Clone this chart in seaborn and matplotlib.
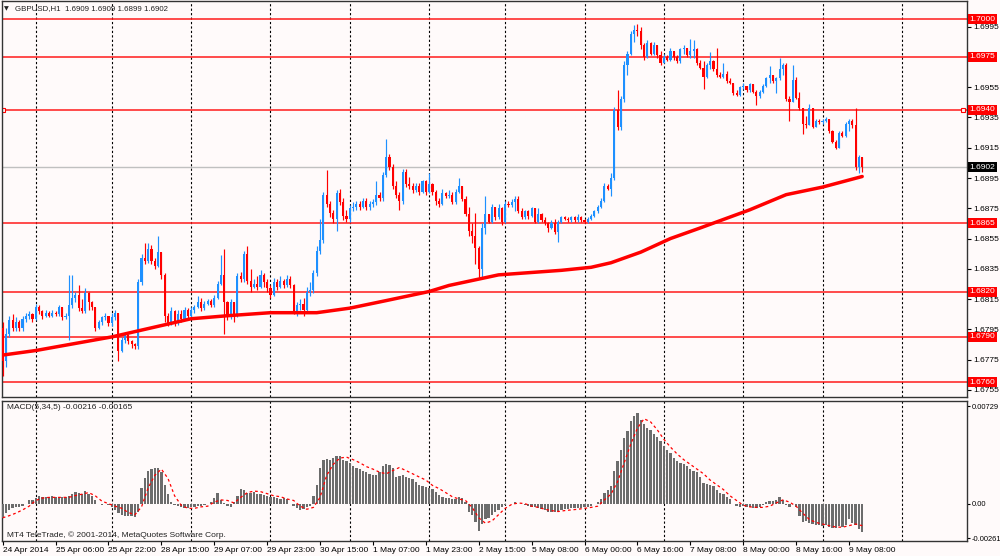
import numpy as np
import pandas as pd
import matplotlib
matplotlib.use('Agg')
import matplotlib.pyplot as plt
import seaborn as sns

# GBPUSD H1 candles, 24 Apr 14:00 .. 9 May 12:00, prices in pips above 1.6700
first_open = 96
close_pips = [
    74, 92, 101, 96, 100, 96, 102, 104, 105, 102,
    110, 107, 104, 106, 104, 106, 105, 110, 103, 104,
    111, 116, 118, 109, 107, 119, 113, 110, 96, 100,
    103, 104, 99, 103, 106, 81, 88, 91, 87, 85,
    84, 126, 142, 140, 148, 140, 137, 146, 131, 104,
    99, 107, 99, 105, 102, 108, 104, 108, 110, 113,
    109, 112, 114, 111, 116, 125, 131, 113, 103, 113,
    104, 130, 128, 145, 127, 123, 125, 123, 131, 126,
    122, 118, 126, 123, 127, 124, 128, 124, 107, 111,
    112, 108, 120, 121, 132, 147, 154, 184, 178, 172,
    168, 185, 179, 170, 168, 175, 176, 178, 176, 180,
    176, 178, 179, 184, 182, 197, 209, 202, 190, 184,
    180, 199, 191, 190, 187, 190, 186, 193, 186, 191,
    186, 180, 178, 185, 183, 184, 179, 186, 190, 181,
    171, 160, 157, 149, 135, 162, 171, 166, 176, 169,
    175, 166, 178, 177, 179, 181, 173, 169, 173, 170,
    175, 166, 171, 167, 165, 162, 165, 159, 166, 169,
    168, 167, 169, 167, 169, 167, 166, 168, 170, 173,
    176, 180, 190, 188, 195, 240, 229, 247, 270, 277,
    290, 293, 292, 283, 275, 284, 277, 283, 276, 271,
    275, 273, 279, 275, 272, 280, 281, 276, 279, 280,
    271, 268, 262, 270, 272, 267, 263, 262, 264, 259,
    258, 251, 250, 255, 256, 253, 257, 252, 249, 252,
    256, 261, 263, 259, 261, 267, 270, 247, 245, 260,
    248, 241, 231, 230, 241, 229, 233, 232, 233, 234,
    226, 219, 215, 225, 223, 231, 233, 230, 202, 209,
    202]
high_pips = [
    100, 96, 104, 105, 103, 101, 104, 106, 107, 106,
    112, 111, 108, 108, 107, 108, 107, 111, 110, 106,
    131, 131, 120, 124, 115, 122, 120, 114, 110, 101,
    104, 106, 104, 106, 108, 106, 90, 93, 92, 88,
    86, 128, 145, 152, 152, 151, 142, 157, 146, 132,
    106, 110, 108, 108, 108, 110, 109, 110, 111, 117,
    116, 114, 115, 115, 118, 127, 144, 148, 114, 115,
    112, 132, 133, 147, 150, 135, 128, 130, 134, 132,
    128, 124, 129, 128, 130, 128, 131, 130, 125, 113,
    115, 116, 123, 126, 134, 150, 168, 186, 200, 180,
    174, 187, 188, 182, 174, 177, 179, 180, 180, 182,
    182, 180, 181, 193, 186, 199, 221, 211, 204, 193,
    186, 201, 201, 196, 192, 192, 192, 194, 194, 198,
    192, 187, 182, 188, 186, 187, 186, 188, 195, 190,
    183, 176, 165, 172, 150, 165, 183, 171, 178, 176,
    178, 176, 180, 180, 181, 183, 183, 175, 174, 174,
    176, 175, 175, 172, 169, 166, 167, 168, 167, 170,
    170, 169, 170, 170, 171, 170, 168, 169, 171, 174,
    177, 182, 192, 191, 198, 242, 253, 249, 272, 279,
    292, 296, 297, 295, 284, 286, 285, 285, 282, 279,
    277, 276, 281, 279, 276, 281, 283, 281, 287, 286,
    281, 273, 272, 271, 278, 273, 281, 265, 271, 266,
    261, 257, 253, 256, 258, 256, 258, 257, 253, 253,
    257, 262, 269, 263, 262, 274, 271, 271, 249, 270,
    262, 252, 241, 236, 244, 240, 234, 234, 234, 235,
    234, 227, 220, 226, 226, 232, 234, 234, 241, 210,
    209]
low_pips = [
    64, 70, 90, 94, 94, 94, 94, 100, 102, 100,
    101, 105, 102, 103, 103, 103, 104, 104, 101, 102,
    88, 109, 113, 107, 106, 106, 108, 108, 94, 95,
    98, 101, 97, 97, 101, 74, 80, 86, 85, 83,
    82, 82, 124, 138, 139, 138, 135, 136, 128, 100,
    97, 98, 97, 98, 100, 101, 102, 103, 106, 109,
    107, 108, 111, 110, 110, 115, 124, 92, 101, 102,
    100, 103, 126, 126, 125, 120, 122, 121, 122, 123,
    120, 116, 117, 121, 122, 122, 123, 122, 105, 104,
    108, 104, 107, 117, 119, 130, 145, 152, 176, 169,
    165, 160, 177, 167, 166, 166, 173, 174, 174, 175,
    174, 174, 176, 177, 180, 180, 196, 200, 188, 182,
    174, 178, 189, 188, 185, 186, 184, 185, 184, 185,
    184, 177, 176, 177, 182, 182, 178, 178, 185, 180,
    170, 157, 152, 138, 128, 128, 158, 165, 165, 167,
    168, 164, 165, 176, 176, 173, 172, 168, 168, 168,
    169, 165, 165, 166, 164, 159, 161, 158, 153, 165,
    167, 166, 166, 166, 166, 166, 165, 165, 167, 169,
    172, 175, 179, 187, 183, 194, 227, 227, 245, 263,
    276, 285, 289, 280, 273, 274, 276, 276, 274, 270,
    271, 272, 272, 273, 271, 271, 277, 275, 274, 274,
    270, 267, 254, 261, 267, 266, 262, 261, 261, 258,
    257, 250, 249, 249, 254, 252, 252, 251, 243, 248,
    251, 255, 258, 258, 251, 260, 263, 246, 233, 245,
    247, 240, 224, 228, 230, 228, 229, 231, 231, 232,
    225, 218, 214, 215, 222, 222, 226, 228, 200, 198,
    199]

# moving average (red line), read at a few bars
ma_bars = [0, 10, 33, 57, 68, 81, 95, 105, 116, 129, 135, 150, 169, 178,
           184, 193, 202, 211, 226, 237, 248, 260]
ma_pips = [78, 81, 90, 102, 104, 106, 106, 109, 114, 120, 124, 131, 134, 136,
           139, 146, 155, 162, 174, 184, 189, 196]

# MACD(5,34,5) histogram, units of 1e-5
macd_hist = [
    -106, -71, -47, -35, -28, -24, -19, -5, 24, 28,
    42, 54, 47, 52, 47, 54, 52, 47, 47, 52,
    59, 71, 90, 83, 75, 94, 75, 59, 24, 0,
    -7, -5, -12, -24, -47, -71, -83, -90, -90, -94,
    -99, -59, 118, 189, 248, 259, 264, 271, 236, 142,
    71, 12, -12, -17, -24, -35, -35, -28, -24, -19,
    -19, -12, 0, 12, 42, 83, 24, 5, -19, -28,
    12, 59, 113, 106, 83, 83, 90, 75, 71, 66,
    59, 47, 47, 42, 35, 40, 35, -5, -19, -35,
    -47, -42, -28, -19, 59, 142, 271, 325, 335, 330,
    342, 358, 354, 330, 318, 307, 283, 271, 259, 248,
    236, 224, 217, 212, 236, 283, 295, 288, 264, 200,
    208, 212, 200, 189, 184, 165, 142, 130, 123, 118,
    113, 90, 66, 52, 42, 42, 35, 33, 47, 42,
    12, -59, -83, -137, -208, -153, -118, -106, -83, -66,
    -47, -28, -12, -5, 0, 12, 0, -5, -12, -19,
    -24, -28, -35, -42, -47, -59, -61, -59, -52, -47,
    -42, -40, -35, -35, -33, -35, -28, -24, -19, -5,
    12, 35, 83, 106, 130, 248, 318, 401, 495, 547,
    618, 660, 679, 625, 601, 571, 554, 519, 500, 472,
    436, 401, 377, 342, 318, 307, 295, 283, 259, 248,
    236, 200, 153, 146, 142, 130, 106, 83, 71, 52,
    35, 0, -19, -24, -19, -24, -28, -35, -35, -24,
    -12, 12, 17, 19, 24, 52, 28, -12, -24, -5,
    -28, -90, -137, -130, -146, -153, -160, -160, -165, -160,
    -177, -184, -184, -165, -177, -160, -118, -142, -160, -193,
    -216]
# signal line, read every second bar, units of 1e-5
signal_bars = list(range(0, 261, 2))
signal_vals = [
    -106, -90, -71, -47, -19, 24, 42, 47, 47, 47,
    47, 61, 71, 83, 59, 19, 0, -19, -35, -66,
    -83, -24, 118, 212, 259, 189, 59, -12, -35, -35,
    -24, -19, 12, 28, 24, 5, 47, 83, 94, 90,
    75, 59, 52, 35, 24, -19, -42, -28, 47, 212,
    295, 342, 349, 330, 307, 278, 259, 236, 224, 248,
    271, 248, 224, 200, 177, 137, 113, 83, 52, 35,
    24, -28, -106, -146, -130, -83, -35, -5, 5, 0,
    -19, -28, -42, -52, -59, -52, -47, -42, -35, -28,
    -19, 28, 71, 165, 307, 448, 566, 637, 613, 554,
    483, 424, 373, 330, 295, 259, 224, 177, 141, 106,
    59, 24, -12, -24, -28, -28, -19, 5, 28, 12,
    -19, -71, -118, -141, -153, -165, -175, -177, -165, -153,
    -165]

level_prices = [1.7000, 1.6975, 1.6940, 1.6865, 1.6820, 1.6790, 1.6760]
marked_level = 1.6940
last_price = 1.6902
price_ticks = [1.6755, 1.6775, 1.6795, 1.6815, 1.6835, 1.6855, 1.6875,
               1.6895, 1.6915, 1.6935, 1.6955, 1.6995]
macd_ticks = [-0.00261, 0.0, 0.00729]
macd_tick_labels = ['-0.00261', '0.00', '0.00729']
date_ticks = list(range(0, 257, 16))
date_labels = ['24 Apr 2014', '25 Apr 06:00', '25 Apr 22:00', '28 Apr 15:00',
               '29 Apr 07:00', '29 Apr 23:00', '30 Apr 15:00', '1 May 07:00',
               '1 May 23:00', '2 May 15:00', '5 May 08:00', '6 May 00:00',
               '6 May 16:00', '7 May 08:00', '8 May 00:00', '8 May 16:00',
               '9 May 08:00']
day_starts = [10, 33, 57, 81, 105, 129, 152, 176, 200, 224, 248, 272]

# ---- build frame
df = pd.DataFrame({'bar': np.arange(len(close_pips)),
                   'close': 1.67 + np.array(close_pips) / 1e4,
                   'high': 1.67 + np.array(high_pips) / 1e4,
                   'low': 1.67 + np.array(low_pips) / 1e4})
df['open'] = np.r_[1.67 + first_open / 1e4, df['close'].values[:-1]]
df['high'] = df[['high', 'open', 'close']].max(axis=1)
df['low'] = df[['low', 'open', 'close']].min(axis=1)
up = df['close'] >= df['open']
cols = np.where(up, '#1e90ff', '#ff0000')

sns.set_theme(style='white')
plt.rcParams['font.family'] = ['Liberation Sans', 'DejaVu Sans']
bg = '#fffafa'
fs = 6

fig = plt.figure(figsize=(10, 5.56), dpi=100, facecolor=bg)
ax = fig.add_axes([0.002, 0.286, 0.965, 0.712])
ax2 = fig.add_axes([0.002, 0.027, 0.965, 0.2518])
xlim = (-0.21, 291.7)

for a in (ax, ax2):
    a.set_facecolor(bg)
    for b in day_starts:
        a.axvline(b, color='black', lw=0.8, ls=(0, (2, 2)), zorder=0)
    for s in a.spines.values():
        s.set_color('#333333')
        s.set_linewidth(1.0)

# price panel
for p in level_prices:
    ax.axhline(p, color='#ff1a1a', lw=1.1, zorder=1)
ax.axhline(last_price, color='#c0c0c0', lw=1.0, zorder=1)
ax.plot([xlim[0] + 0.3, xlim[1] - 1.2], [marked_level, marked_level], 's',
        ms=3.2, mfc=bg, mec='#ff0000', mew=0.8, zorder=2)

ax.vlines(df['bar'], df['low'], df['high'], colors=cols, lw=0.85, zorder=3)
body = np.maximum((df['close'] - df['open']).abs(), 0.00004)
ax.bar(df['bar'], body, bottom=df[['open', 'close']].min(axis=1), width=0.64,
       color=cols, lw=0, zorder=4)

ma = pd.DataFrame({'bar': ma_bars, 'price': 1.67 + np.array(ma_pips) / 1e4})
sns.lineplot(data=ma, x='bar', y='price', ax=ax, color='#ff0000', lw=2.5, zorder=5)

ax.set_xlim(*xlim)
ax.set_ylim(1.67503, 1.70119)
ax.set_xticks([])
ax.set_xlabel('')
ax.set_ylabel('')
ax.yaxis.tick_right()
ax.set_yticks(price_ticks)
ax.set_yticklabels([f'{t:.4f}' for t in price_ticks])
ax.tick_params(axis='y', right=True, direction='out', length=3, width=0.8,
               pad=1.5, labelsize=fs, colors='black')

for p in level_prices:
    ax.annotate(f'{p:.4f}', xy=(1.0, p), xycoords=('axes fraction', 'data'),
                xytext=(2, 0), textcoords='offset points', ha='left', va='center',
                color='white', fontsize=fs, annotation_clip=False, zorder=10,
                bbox=dict(boxstyle='square,pad=0.18', fc='#ff0000', ec='none'))
ax.annotate(f'{last_price:.4f}', xy=(1.0, last_price), xycoords=('axes fraction', 'data'),
            xytext=(2, 0), textcoords='offset points', ha='left', va='center',
            color='white', fontsize=fs, annotation_clip=False, zorder=10,
            bbox=dict(boxstyle='square,pad=0.18', fc='black', ec='none'))

fig.text(0.004, 0.984, '\u25bc', fontsize=4.5, va='center', color='#222222',
         family=['DejaVu Sans'])
fig.text(0.015, 0.984, 'GBPUSD,H1  1.6909 1.6909 1.6899 1.6902', fontsize=5.7,
         va='center', color='#222222')

# MACD panel
hist = pd.DataFrame({'bar': np.arange(len(macd_hist)), 'macd': np.array(macd_hist) * 1e-5})
sns.barplot(data=hist, x='bar', y='macd', native_scale=True, color='#6c6c6c',
            saturation=1, width=0.7, errorbar=None, linewidth=0, ax=ax2, zorder=3)
sig = pd.DataFrame({'bar': signal_bars, 'signal': np.array(signal_vals) * 1e-5})
sns.lineplot(data=sig, x='bar', y='signal', ax=ax2, color='#ff0000', lw=0.9,
             linestyle=(0, (2.2, 2.2)), zorder=4)

ax2.set_xlim(*xlim)
ax2.set_ylim(-0.0028, 0.0077)
ax2.set_xlabel('')
ax2.set_ylabel('')
ax2.yaxis.tick_right()
ax2.set_yticks(macd_ticks)
ax2.set_yticklabels(macd_tick_labels)
ax2.tick_params(axis='y', right=True, direction='out', length=2.5, width=0.8,
                pad=1.0, labelsize=5.4, colors='black')
ax2.set_xticks(date_ticks)
ax2.set_xticklabels(date_labels, ha='left')
ax2.tick_params(axis='x', bottom=True, direction='out', length=3, width=0.8,
                pad=1.5, labelsize=fs, colors='black')

ax2.text(0.005, 0.955, 'MACD(5,34,5) -0.00216 -0.00165', transform=ax2.transAxes,
         fontsize=fs, va='center', color='#222222')
ax2.text(0.005, 0.045, 'MT4 TeleTrade, \u00a9 2001-2014, MetaQuotes Software Corp.',
         transform=ax2.transAxes, fontsize=fs, va='center', color='#222222')

fig.savefig('out.png', dpi=100, facecolor=bg)
